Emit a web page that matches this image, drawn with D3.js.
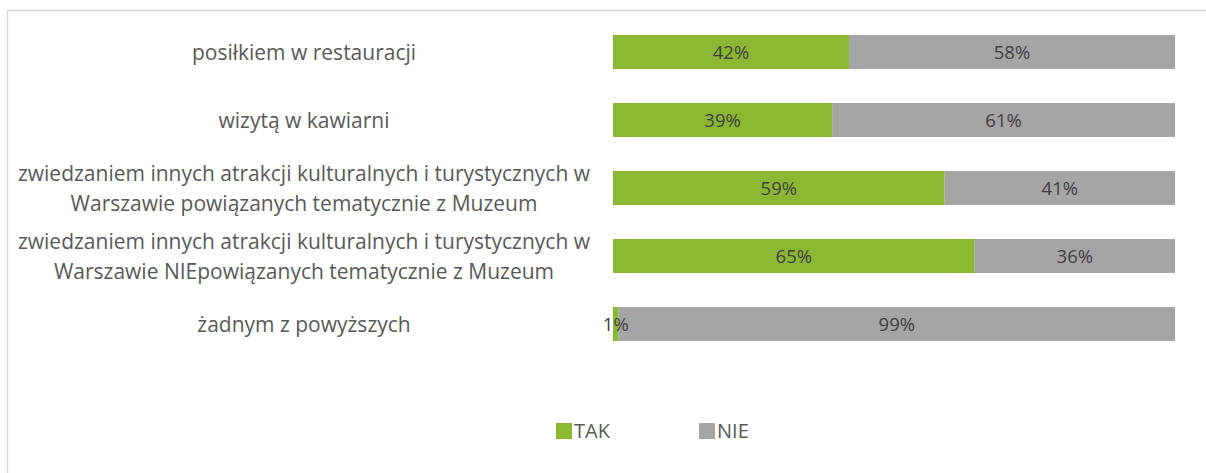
<!DOCTYPE html>
<html><head><meta charset="utf-8">
<script src="https://cdn.jsdelivr.net/npm/d3@7"></script>
<style>body{margin:0;background:#fff}svg{display:block}</style>
</head><body>
<script>
const categories = [
  ["posiłkiem w restauracji"],
  ["wizytą w kawiarni"],
  ["zwiedzaniem innych atrakcji kulturalnych i turystycznych w", "Warszawie powiązanych tematycznie z Muzeum"],
  ["zwiedzaniem innych atrakcji kulturalnych i turystycznych w", "Warszawie NIEpowiązanych tematycznie z Muzeum"],
  ["żadnym z powyższych"]
];
const tak = [42, 39, 59, 65, 1];
const nie = [58, 61, 41, 36, 99];
const seriesNames = ["TAK", "NIE"];
const colors = ["#8AB833", "#A5A5A5"];

const W = 1206, H = 473;
const svg = d3.select("body").append("svg").attr("width", W).attr("height", H);
const font = "'Open Sans', sans-serif";

svg.append("rect").attr("x", 7.5).attr("y", 10.5).attr("width", W + 10).attr("height", H + 10)
  .attr("fill", "none").attr("stroke", "#D9D9D9").attr("stroke-width", 1.5);

const rows = categories.map((c, i) => ({label: c, TAK: tak[i], NIE: nie[i], total: tak[i] + nie[i], i}));
const stack = d3.stack().keys(seriesNames)
  .value((d, k) => d[k] / d.total);
const stacked = stack(rows);

const x = d3.scaleLinear().domain([0, 1]).range([613, 1175]);
const y = d3.scaleBand().domain(d3.range(categories.length)).range([18, 358]).paddingInner(0.5).paddingOuter(0.25);

const g = svg.append("g");
stacked.forEach((s, si) => {
  g.selectAll(null).data(s).enter().append("rect")
    .attr("x", d => x(d[0])).attr("y", (d, i) => y(i))
    .attr("width", d => x(d[1]) - x(d[0])).attr("height", y.bandwidth())
    .attr("fill", colors[si]);
});
const gl = svg.append("g");
stacked.forEach((s, si) => {
  gl.selectAll(null).data(s).enter().append("text")
    .attr("x", d => (x(d[0]) + x(d[1])) / 2).attr("y", (d, i) => y(i) + y.bandwidth() / 2)
    .attr("dy", "0.36em").attr("text-anchor", "middle")
    .attr("font-family", font).attr("font-size", 18.5).attr("fill", "#404040")
    .text(d => d.data[seriesNames[si]] + "%");
});

// category labels
const lab = svg.append("g");
categories.forEach((lines, i) => {
  const cy = y(i) + y.bandwidth() / 2;
  const lh = 30;
  const t = lab.append("text").attr("text-anchor", "middle")
    .attr("font-family", font).attr("font-size", 21).attr("fill", "#595959");
  lines.forEach((ln, j) => {
    t.append("tspan").attr("x", 304)
      .attr("y", cy + (j - (lines.length - 1) / 2) * lh).attr("dy", "0.36em").text(ln);
  });
});

// legend
const leg = svg.append("g");
const lx = [556, 699];
seriesNames.forEach((n, i) => {
  leg.append("rect").attr("x", lx[i]).attr("y", 423).attr("width", 16).attr("height", 16).attr("fill", colors[i]);
  leg.append("text").attr("x", lx[i] + 18).attr("y", 431).attr("dy", "0.36em")
    .attr("font-family", font).attr("font-size", 20).attr("fill", "#595959").text(n);
});
</script>
</body></html>
